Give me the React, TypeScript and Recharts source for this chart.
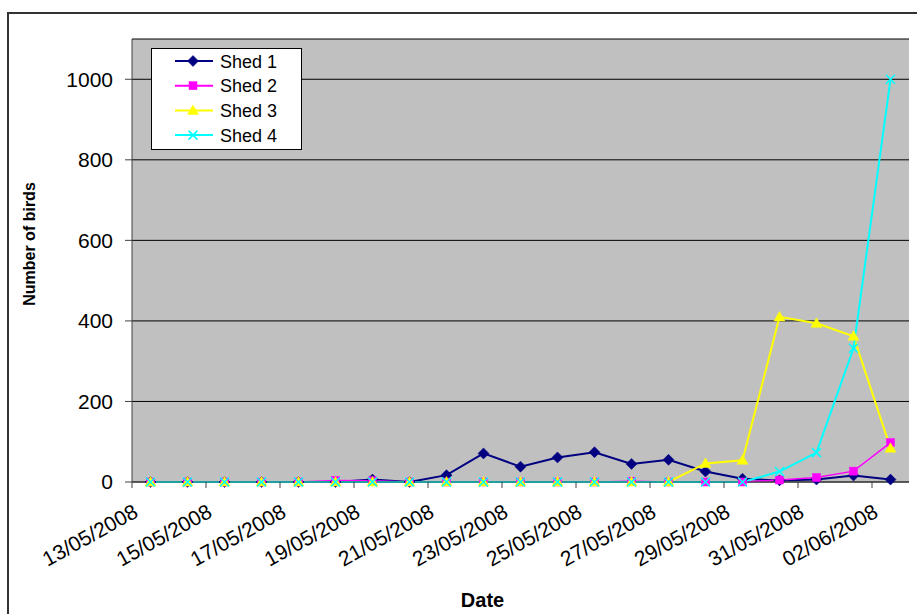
import React from 'react';
import { LineChart, Line, XAxis, YAxis, CartesianGrid, Legend, Label } from 'recharts';

const dates = [
  '13/05/2008', '14/05/2008', '15/05/2008', '16/05/2008', '17/05/2008', '18/05/2008', '19/05/2008',
  '20/05/2008', '21/05/2008', '22/05/2008', '23/05/2008', '24/05/2008', '25/05/2008', '26/05/2008',
  '27/05/2008', '28/05/2008', '29/05/2008', '30/05/2008', '31/05/2008', '01/06/2008', '02/06/2008',
];
const shed1 = [0, 0, 0, 0, 0, 0, 6, 0, 17, 71, 38, 61, 74, 45, 55, 26, 8, 4, 6, 16, 6];
const shed2 = [0, 0, 0, 0, 0, 4, 3, 0, 0, 0, 0, 0, 0, 2, 0, 0, 0, 5, 11, 27, 98];
const shed3 = [0, 0, 0, 0, 0, 0, 0, 0, 0, 0, 0, 0, 0, 0, 0, 46, 54, 410, 394, 362, 84];
const shed4 = [0, 0, 0, 0, 0, 0, 0, 0, 0, 0, 0, 0, 0, 0, 0, 0, 0, 26, 73, 332, 1000];
const seriesNames = ['Shed 1', 'Shed 2', 'Shed 3', 'Shed 4'];
const yTicks = [0, 200, 400, 600, 800, 1000];

const data = dates.map((d, i) => ({
  date: d,
  s1: shed1[i],
  s2: shed2[i],
  s3: shed3[i],
  s4: shed4[i],
}));

const FONT = '"Liberation Sans", Arial, Helvetica, sans-serif';
const COLORS = ['#000080', '#FF00FF', '#FFFF00', '#00FFFF'];
const HALF_BAND = 18.5;
const AXIS = '#404040';

const Marker = ({ kind, cx, cy }: { kind: number; cx: number; cy: number }) => {
  const c = COLORS[kind];
  if (kind === 0) {
    return <path d={`M${cx},${cy - 5.5}L${cx + 5.5},${cy}L${cx},${cy + 5.5}L${cx - 5.5},${cy}Z`} fill={c} stroke={c} strokeWidth={0.5} />;
  }
  if (kind === 1) {
    return <rect x={cx - 4} y={cy - 4} width={8} height={8} fill={c} stroke={c} strokeWidth={0.5} />;
  }
  if (kind === 2) {
    return <path d={`M${cx},${cy - 5.5}L${cx + 5.5},${cy + 4}L${cx - 5.5},${cy + 4}Z`} fill={c} stroke={c} strokeWidth={0.5} />;
  }
  return (
    <path d={`M${cx - 4.5},${cy - 4.5}L${cx + 4.5},${cy + 4.5}M${cx + 4.5},${cy - 4.5}L${cx - 4.5},${cy + 4.5}`} stroke={c} strokeWidth={1.6} fill="none" />
  );
};

const makeDot = (kind: number) => (p: any) => {
  if (p.cx == null || p.cy == null) return <g key={`e${kind}-${p.index}`} />;
  return (
    <g key={`m${kind}-${p.index}`}>
      <Marker kind={kind} cx={p.cx} cy={p.cy} />
    </g>
  );
};

const XTick = (props: any) => {
  const { x, y, payload } = props;
  const tx = x - 11;
  const ty = y + 34;
  return (
    <g>
      <line x1={x - HALF_BAND} y1={y} x2={x - HALF_BAND} y2={y + 6} stroke={AXIS} strokeWidth={1} />
      <text x={tx} y={ty} transform={`rotate(-29 ${tx} ${ty})`} textAnchor="end" fontSize={21} fontFamily={FONT} fill="#000">
        {payload.value}
      </text>
    </g>
  );
};

const LegendBox = () => (
  <svg width={151} height={102} style={{ display: 'block' }}>
    <rect x={0.5} y={0.5} width={150} height={101} fill="#fff" stroke="#000" strokeWidth={1} />
    {seriesNames.map((n, i) => {
      const cy = 13 + i * 24.7;
      return (
        <g key={n}>
          <line x1={24} y1={cy} x2={62} y2={cy} stroke={COLORS[i]} strokeWidth={2} />
          <Marker kind={i} cx={42} cy={cy} />
          <text x={69} y={cy + 6.5} fontSize={18} fontFamily={FONT} fill="#000">
            {n}
          </text>
        </g>
      );
    })}
  </svg>
);

export default function App() {
  return (
    <div style={{ position: 'absolute', left: 0, top: 0, width: 917, height: 614, background: '#fff', overflow: 'hidden' }}>
      <div
        style={{
          position: 'absolute',
          left: 7,
          top: 12,
          width: 910,
          height: 602,
          boxSizing: 'border-box',
          borderLeft: '2px solid #333',
          borderTop: '2px solid #333',
        }}
      />
      <div style={{ position: 'absolute', left: 0, top: 0 }}>
        <LineChart width={917} height={614} data={data} margin={{ top: 39, right: 8, bottom: 0, left: 0 }}>
          <CartesianGrid vertical={false} fill="#C0C0C0" fillOpacity={1} stroke="#000" strokeWidth={1} />
          <XAxis
            dataKey="date"
            interval={1}
            height={132}
            padding={{ left: HALF_BAND, right: HALF_BAND }}
            tickSize={0}
            tickMargin={0}
            tickLine={false}
            tick={<XTick />}
            axisLine={{ stroke: AXIS, strokeWidth: 1 }}
          >
            <Label
              content={() => (
                <text x={482.5} y={606.5} textAnchor="middle" fontSize={20} fontWeight="bold" fontFamily={FONT} fill="#000">
                  Date
                </text>
              )}
            />
          </XAxis>
          <XAxis xAxisId="top" dataKey="date" orientation="top" height={0} tick={false} tickLine={false} axisLine={{ stroke: '#808080', strokeWidth: 1.5 }} />
          <YAxis
            width={132}
            domain={[0, 1100]}
            ticks={yTicks}
            interval={0}
            tickSize={7}
            tickMargin={12}
            tickLine={{ stroke: AXIS }}
            axisLine={{ stroke: AXIS, strokeWidth: 1 }}
            tick={{ fontSize: 21, fontFamily: FONT, fill: '#000' }}
          >
            <Label
              content={() => (
                <text x={35} y={244} transform="rotate(-90 35 244)" textAnchor="middle" fontSize={16} fontWeight="bold" fontFamily={FONT} fill="#000">
                  Number of birds
                </text>
              )}
            />
          </YAxis>
          <YAxis yAxisId="right" orientation="right" width={0} domain={[0, 1100]} tick={false} tickLine={false} axisLine={{ stroke: '#808080', strokeWidth: 1.5 }} />
          <Legend layout="vertical" align="center" verticalAlign="middle" content={LegendBox} wrapperStyle={{ left: 151, top: 48, width: 151, height: 102 }} />
          <Line dataKey="s1" name={seriesNames[0]} stroke={COLORS[0]} strokeWidth={2} dot={makeDot(0)} activeDot={false} isAnimationActive={false} />
          <Line dataKey="s2" name={seriesNames[1]} stroke={COLORS[1]} strokeWidth={1.5} dot={makeDot(1)} activeDot={false} isAnimationActive={false} />
          <Line dataKey="s3" name={seriesNames[2]} stroke={COLORS[2]} strokeWidth={2} dot={makeDot(2)} activeDot={false} isAnimationActive={false} />
          <Line dataKey="s4" name={seriesNames[3]} stroke={COLORS[3]} strokeWidth={2} dot={makeDot(3)} activeDot={false} isAnimationActive={false} />
        </LineChart>
      </div>
    </div>
  );
}
